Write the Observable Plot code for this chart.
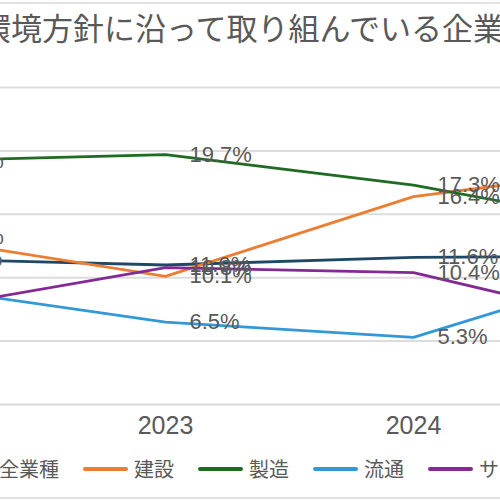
<!DOCTYPE html>
<html lang="ja">
<head>
<meta charset="UTF-8">
<title>環境方針に沿って取り組んでいる企業</title>
<script src="https://cdn.jsdelivr.net/npm/d3@7"></script>
<script src="https://cdn.jsdelivr.net/npm/@observablehq/plot@0.6"></script>
<style>
  body { margin: 0; background: #fff; }
  #wrap { position: relative; width: 500px; height: 500px; overflow: hidden; background: #fff; }
  #border { position: absolute; top: 2px; left: -6px; width: 508px; height: 493px; border: 2px solid #e2e2e2; }
  #titre {
    position: absolute; top: 4px; left: -20px; white-space: nowrap;
    font-family: "Noto Sans CJK JP", sans-serif; font-size: 31px; color: #595959;
  }
  #myplot { position: absolute; top: 0; left: 0; }
  #legende {
    position: absolute; top: 454px; left: -52px; display: flex; align-items: center;
    white-space: nowrap; font-family: "Noto Sans CJK JP", sans-serif; font-size: 20px; color: #595959;
  }
  .item { display: flex; align-items: center; margin-right: 24px; }
  .swatch { width: 45px; height: 4px; border-radius: 2px; margin-right: 6px; }
</style>
</head>
<body>
<div id="wrap">
  <div id="border"></div>
  <div id="titre">環境方針に沿って取り組んでいる企業の割合</div>
  <div id="myplot"></div>
  <div id="legende"></div>
</div>
<script>
// donnees (en %)
const annees = [2022, 2023, 2024, 2025];
const secteurs = ["全業種", "建設", "製造", "流通", "サービス"];
const couleurs = ["#1f4866", "#ed7d31", "#1f6b22", "#3399d6", "#832a93"];
const toutSecteur = [11.5, 11.0, 11.6, 11.7];
const construction = [13.2, 10.1, 16.4, 18.9];
const fabrication = [19.2, 19.7, 17.3, 13.7];
const distribution = [9.3, 6.5, 5.3, 11.3];
const service = [7.4, 10.8, 10.4, 5.8];
const grille = [0, 5, 10, 15, 20, 25];
const anneesAffichees = [2023, 2024];

const valeurs = [toutSecteur, construction, fabrication, distribution, service];
const donnees = [];
secteurs.forEach((s, i) => {
    annees.forEach((a, j) => donnees.push({ secteur: s, annee: a, valeur: valeurs[i][j] }));
});

const plot = Plot.plot({
    width: 500,
    height: 500,
    marginTop: 87,
    marginBottom: 96,
    marginLeft: 0,
    marginRight: 0,
    style: { fontFamily: "'Liberation Sans', Arial, sans-serif", color: "#595959" },
    x: { domain: [2022, 2025], range: [-83, 661], label: null },
    y: { domain: [0, 25], axis: null },
    color: { domain: secteurs, range: couleurs },
    marks: [
        Plot.ruleY(grille, { stroke: "#dcdcdc", strokeWidth: 2 }),
        Plot.axisX({
            ticks: anneesAffichees, tickFormat: d => String(d), tickSize: 0,
            tickPadding: 12, fontSize: 25, fill: "#595959", label: null
        }),
        Plot.line(donnees, { x: "annee", y: "valeur", z: "secteur", stroke: "secteur", strokeWidth: 2.8 }),
        Plot.text(donnees, {
            x: "annee", y: "valeur", text: d => d.valeur.toFixed(1) + "%",
            textAnchor: "start", dx: 24, fontSize: 22, fill: "#595959"
        })
    ]
});
document.querySelector("#myplot").append(plot);

// legende
const leg = document.querySelector("#legende");
secteurs.forEach((s, i) => {
    const item = document.createElement("div");
    item.className = "item";
    item.innerHTML = `<span class="swatch" style="background:${couleurs[i]}"></span><span>${s}</span>`;
    leg.append(item);
});
</script>
</body>
</html>
